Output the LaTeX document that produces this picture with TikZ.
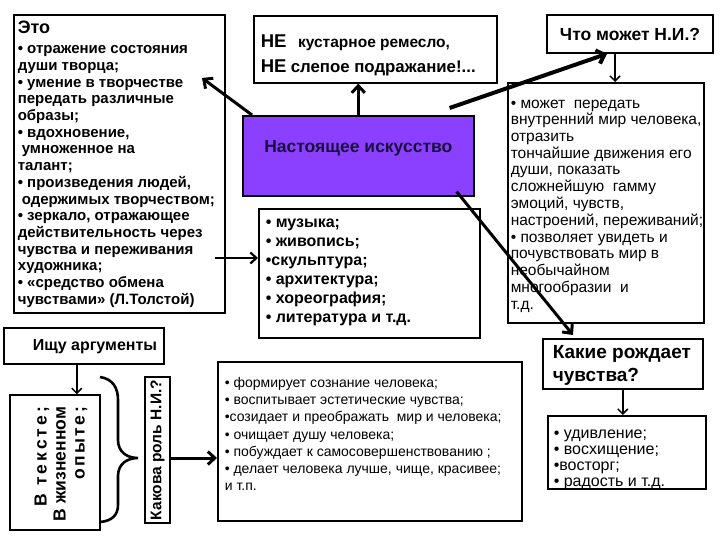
\documentclass[tikz,border=0pt]{standalone}
\usepackage{fontspec}
\setmainfont{Liberation Sans}
\usetikzlibrary{arrows.meta}
\definecolor{violetfill}{RGB}{140,64,255}
\definecolor{navytext}{RGB}{25,15,60}
% #1 width, #2 height, #3 left pad, #4 first baseline, #5 content
\newcommand\bx[5]{\makebox[#1][l]{\parbox[c][#2][t]{\dimexpr#1+80pt\relax}{\raggedright\leftskip=#3\relax\rule{0pt}{#4}#5}}}
\tikzset{
  box/.style={draw, line width=1.6pt, inner sep=0pt, anchor=north west},
  rbox/.style={draw, line width=1.6pt, inner sep=0pt, rotate=90},
  thickarrow/.style={line width=3pt, -{Straight Barb[length=7pt,width=13pt]}},
  heavyarrow/.style={line width=4pt, -{Straight Barb[length=7pt,width=14pt]}},
  thinarrow/.style={line width=1.5pt, -{Straight Barb[length=5pt,width=10pt]}},
  bracestyle/.style={line width=2.6pt}
}
\begin{document}
\begin{tikzpicture}[x=1pt,y=-1pt]
\useasboundingbox (0,0) rectangle (720,540);

\node[box] (eto) at (13,14) {\bx{211pt}{298pt}{4pt}{18.4pt}{\fontsize{15}{16.7}\selectfont\bfseries
{\fontsize{18}{16.7}\selectfont Это}\\[3.9pt]
• отражение состояния\\
души творца;\\
• умение в творчестве\\
передать различные\\
образы;\\
• вдохновение,\\
\hspace*{4pt}умноженное на\\
талант;\\
• произведения людей,\\
\hspace*{4pt}одержимых творчеством;\\
• зеркало, отражающее\\
действительность через\\
чувства и переживания\\
художника;\\
• «средство обмена\\
чувствами» (Л.Толстой)}};

\node[box] (ne) at (253,15) {\bx{243pt}{67pt}{7pt}{31.6pt}{\bfseries\fontsize{15.5}{25}\selectfont{\fontsize{18.5}{25}\selectfont НЕ}\hspace{0.75em}кустарное ремесло,\\
{\fontsize{18.5}{25}\selectfont НЕ} {\fontsize{16.8}{25}\selectfont слепое подражание!...}}};

\node[box, anchor=center, minimum width=166pt, minimum height=38pt, font=\bfseries\fontsize{17.5}{20}\selectfont] (what) at (630,34) {Что может Н.И.?};

\node[box, fill=violetfill] (art) at (242,115) {\bx{231pt}{80pt}{0pt}{36.4pt}{\centering\rightskip=80pt plus 1fil\relax\bfseries\color{navytext}\fontsize{17.5}{20}\selectfont Настоящее искусство}};

\node[box] (can) at (507,82) {\bx{196pt}{240pt}{3pt}{25.2pt}{\fontsize{15.5}{16.75}\selectfont • может\ \ передать\\
внутренний мир человека,\\
отразить\\
тончайшие движения его\\
души, показать\\
сложнейшую\ \ гамму\\
эмоций, чувств,\\
настроений, переживаний;\\
• позволяет увидеть и\\
почувствовать мир в\\
необычайном\\
многообразии\ \ и\\
т.д.}};

\node[box] (kinds) at (258,208) {\bx{221pt}{129pt}{7pt}{18.2pt}{\fontsize{16}{19}\selectfont\bfseries • музыка;\\
• живопись;\\
•скульптура;\\
• архитектура;\\
• хореография;\\
• литература и т.д.}};

\node[box] (search) at (3,327) {\bx{160pt}{36pt}{29pt}{22.2pt}{\bfseries\fontsize{16}{18}\selectfont Ищу аргументы}};

\node[rbox] (where) at (55,462.5) {\parbox[c][90pt][t]{135pt}{\raggedleft\rightskip=12pt\relax\rule{0pt}{36.5pt}\bfseries\fontsize{17.5}{19}\selectfont {\addfontfeature{LetterSpace=17}В тексте;}\\
В жизненном\\
{\addfontfeature{LetterSpace=14}опыте;}}};

\node[rbox, minimum width=146pt, minimum height=25pt, font=\bfseries\fontsize{15.5}{18}\selectfont] (roletitle) at (157.5,450) {Какова роль Н.И.?};

\node[box] (roleitems) at (217,361) {\bx{304pt}{159pt}{7pt}{25.6pt}{\fontsize{14}{17.2}\selectfont • формирует сознание человека;\\
• воспитывает эстетические чувства;\\
•созидает и преображать\ \ мир и человека;\\
• очищает душу человека;\\
• побуждает к самосовершенствованию ;\\
• делает человека лучше, чище, красивее;\\
и т.п.}};

\node[box] (which) at (542,338) {\bx{160pt}{50pt}{10pt}{19.7pt}{\bfseries\fontsize{19}{23}\selectfont Какие рождает\\
чувства?}};

\node[box] (feel) at (547,415) {\bx{158pt}{73pt}{6pt}{22.2pt}{\fontsize{16}{16.3}\selectfont • удивление;\\
• восхищение;\\
•восторг;\\
• радость и т.д.}};

% connectors
\coordinate (etotip) at (202,78);
\draw[thickarrow] ([xshift=10pt]art.north west) -- (etotip);
\draw[thickarrow] (art.north) -- (art.north |- ne.south);
\draw[heavyarrow] ([shift={(-25pt,7pt)}]art.north east) -- ([xshift=-23pt]what.south);
\draw[thinarrow] ([xshift=-15pt]what.south) -- ([xshift=-15pt]what.south |- can.north);
\draw[thickarrow] ([shift={(-18pt,5pt)}]art.south east) -- ([shift={(31pt,3pt)}]which.north west);
\coordinate (k1) at (215,258);
\draw[line width=2.2pt, -{Straight Barb[length=6pt,width=11pt]}] (k1) -- (k1 -| kinds.west);
\draw[thinarrow] ([xshift=-7pt]search.south) -- ([xshift=-7pt]search.south |- where.east);
\draw[thickarrow] ([yshift=-8pt]roletitle.south) -- ([yshift=-8pt]roletitle.south -| roleitems.west);
\draw[thinarrow] (which.south) -- (which.south |- feel.north);

% brace
\draw[bracestyle] (100,377) .. controls (113,379) and (118,388) .. (118,400) -- (118,440)
  .. controls (118,452) and (127,458) .. (138,458)
  .. controls (127,458) and (118,464) .. (118,476) -- (118,505)
  .. controls (118,515) and (112,521) .. (100,522);
\end{tikzpicture}
\end{document}
